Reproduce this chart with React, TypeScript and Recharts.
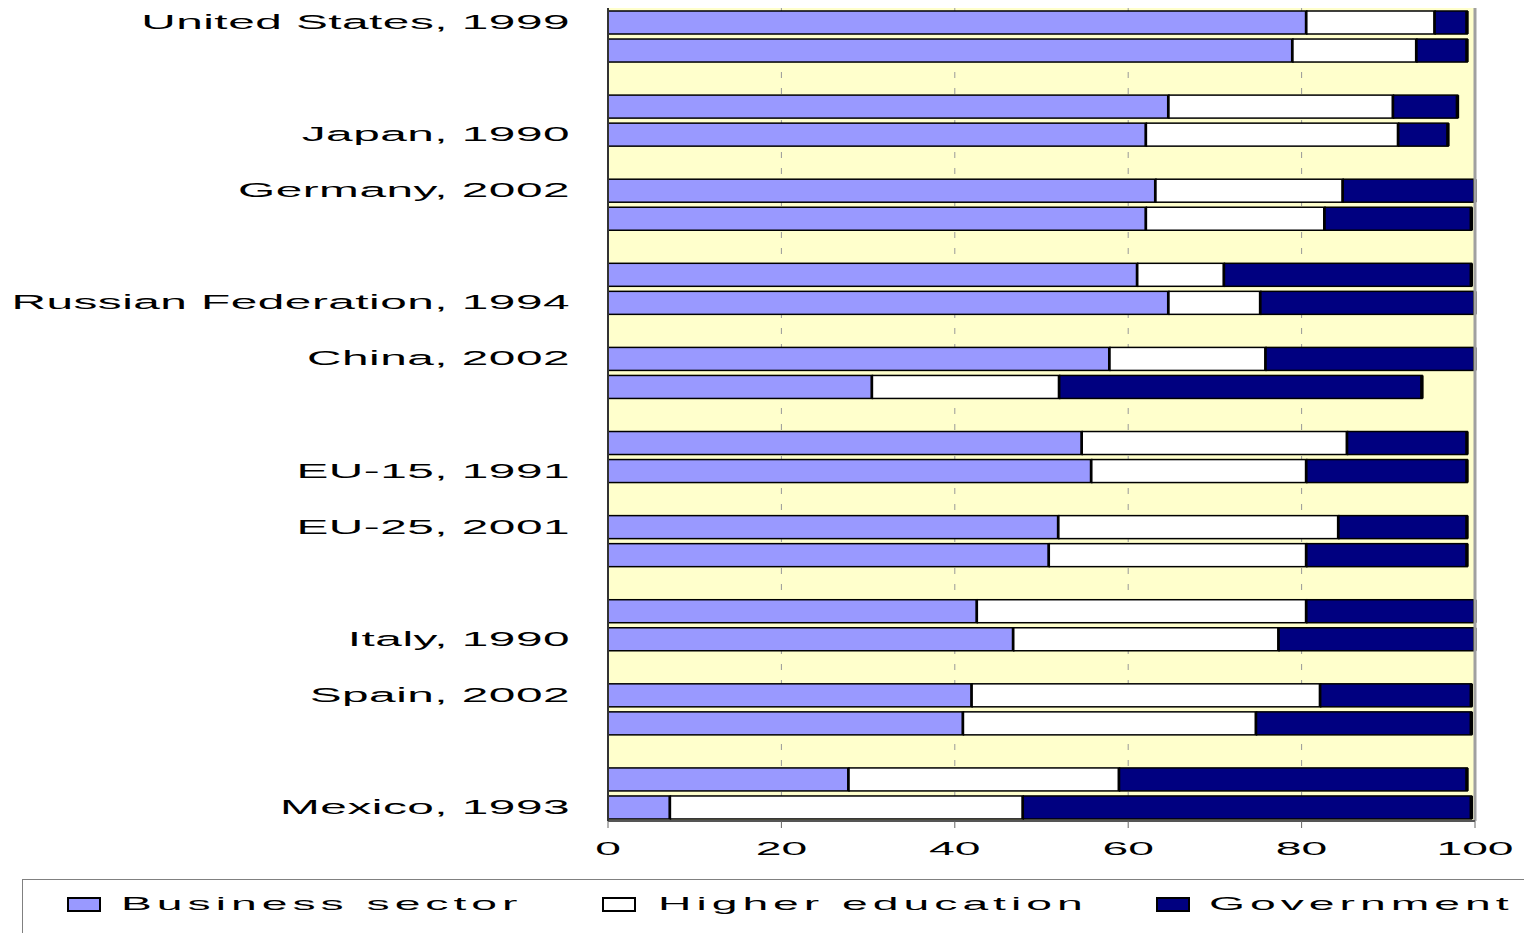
import React from 'react';
import { BarChart, Bar, XAxis, YAxis, CartesianGrid, ReferenceLine } from 'recharts';

// one entry per row of the chart, blank rows are spacers between country pairs
const rowLabels = [
  'United States, 1999', '', '', '', 'Japan, 1990', '', 'Germany, 2002', '', '', '',
  'Russian Federation, 1994', '', 'China, 2002', '', '', '', 'EU-15, 1991', '',
  'EU-25, 2001', '', '', '', 'Italy, 1990', '', 'Spain, 2002', '', '', '', 'Mexico, 1993',
];

const business = [
  80.6, 79.0, null, 64.7, 62.1, null, 63.2, 62.1, null, 61.1, 64.7, null, 57.9, 30.5, null,
  54.7, 55.8, null, 52.0, 50.9, null, 42.6, 46.8, null, 42.0, 41.0, null, 27.8, 7.2,
];
const higherEd = [
  14.8, 14.3, null, 25.9, 29.1, null, 21.6, 20.6, null, 10.0, 10.6, null, 18.0, 21.6, null,
  30.6, 24.8, null, 32.3, 29.7, null, 38.0, 30.6, null, 40.2, 33.8, null, 31.2, 40.7,
];
const government = [
  3.7, 5.8, null, 7.4, 5.7, null, 15.2, 16.9, null, 28.5, 24.7, null, 24.1, 41.8, null,
  13.8, 18.5, null, 14.8, 18.5, null, 19.4, 22.6, null, 17.4, 24.8, null, 40.1, 51.7,
];

const xTicks = [0, 20, 40, 60, 80, 100];

const colors = {
  business: '#9999FF',
  higher: '#FFFFFF',
  gov: '#000080',
  plot: '#FFFFCC',
};

const FONT = '"Liberation Sans", Arial, sans-serif';

const data = rowLabels.map((label, i) => ({
  id: i,
  label,
  business: business[i],
  higher: higherEd[i],
  gov: government[i],
}));

function SegmentShape(props: any) {
  const { x, y, width, height, fill } = props;
  if (!width || width <= 0) return null;
  return (
    <g>
      <rect x={x} y={y} width={width} height={height} fill={fill} stroke="#000" strokeWidth={1.5} />
      <rect x={x + width - 2} y={y} width={3.5} height={height} fill="#000" />
    </g>
  );
}

function RowTick({ x, y, payload }: any) {
  const text = rowLabels[payload.value];
  if (!text) return null;
  return (
    <g transform={`translate(${x},${y})`}>
      <text
        transform="scale(2.45,1)"
        x={0}
        y={7}
        textAnchor="end"
        fontFamily={FONT}
        fontSize={19.5}
        letterSpacing={0.2}
        fill="#000"
      >
        {text}
      </text>
    </g>
  );
}

function ValueTick({ x, y, payload }: any) {
  return (
    <g transform={`translate(${x},${y})`}>
      <text
        transform="scale(2.5,1)"
        x={0}
        y={26}
        textAnchor="middle"
        fontFamily={FONT}
        fontSize={18.5}
        fill="#000"
      >
        {payload.value}
      </text>
    </g>
  );
}

const legendItems = [
  { name: 'Business sector', color: colors.business, box: 44, text: 98 },
  { name: 'Higher education', color: colors.higher, box: 579, text: 635 },
  { name: 'Government', color: colors.gov, box: 1133, text: 1186 },
];

export default function App() {
  return (
    <div
      style={{
        position: 'absolute',
        left: 0,
        top: 0,
        width: 1524,
        height: 933,
        background: '#fff',
        overflow: 'hidden',
      }}
    >
      <BarChart
        width={1524}
        height={870}
        data={data}
        layout="vertical"
        barSize={23}
        margin={{ top: 8, right: 49, left: 0, bottom: 0 }}
      >
        <CartesianGrid
          horizontal={false}
          strokeDasharray="6 10"
          stroke="#999"
          fill={colors.plot}
          fillOpacity={1}
        />
        <XAxis
          type="number"
          domain={[0, 100]}
          ticks={xTicks}
          height={49}
          axisLine={{ stroke: '#555', strokeWidth: 2 }}
          tickLine={{ stroke: '#666' }}
          tickSize={7}
          tickMargin={1}
          tick={<ValueTick />}
        />
        <YAxis
          type="category"
          dataKey="id"
          width={608}
          interval={0}
          axisLine={{ stroke: '#333', strokeWidth: 2 }}
          tickLine={false}
          tickSize={0}
          tickMargin={38}
          tick={<RowTick />}
        />
        <ReferenceLine x={100} stroke="#A0A0A0" strokeWidth={3} />
        <Bar dataKey="business" stackId="a" fill={colors.business} shape={<SegmentShape />} isAnimationActive={false} />
        <Bar dataKey="higher" stackId="a" fill={colors.higher} shape={<SegmentShape />} isAnimationActive={false} />
        <Bar dataKey="gov" stackId="a" fill={colors.gov} shape={<SegmentShape />} isAnimationActive={false} />
      </BarChart>

      {/* Legend */}
      <div
        style={{
          position: 'absolute',
          left: 22,
          top: 879,
          width: 1540,
          height: 80,
          border: '1px solid #808080',
          fontFamily: FONT,
        }}
      >
        {legendItems.map((item) => (
          <React.Fragment key={item.name}>
            <div
              style={{
                position: 'absolute',
                left: item.box,
                top: 17,
                width: 30,
                height: 11,
                background: item.color,
                border: '2px solid #000',
              }}
            />
            <span
              style={{
                position: 'absolute',
                left: item.text,
                top: 14,
                fontSize: 18.5,
                lineHeight: '19px',
                letterSpacing: 2,
                whiteSpace: 'nowrap',
                transform: 'scaleX(2.5)',
                transformOrigin: 'left center',
                color: '#000',
              }}
            >
              {item.name}
            </span>
          </React.Fragment>
        ))}
      </div>
    </div>
  );
}
